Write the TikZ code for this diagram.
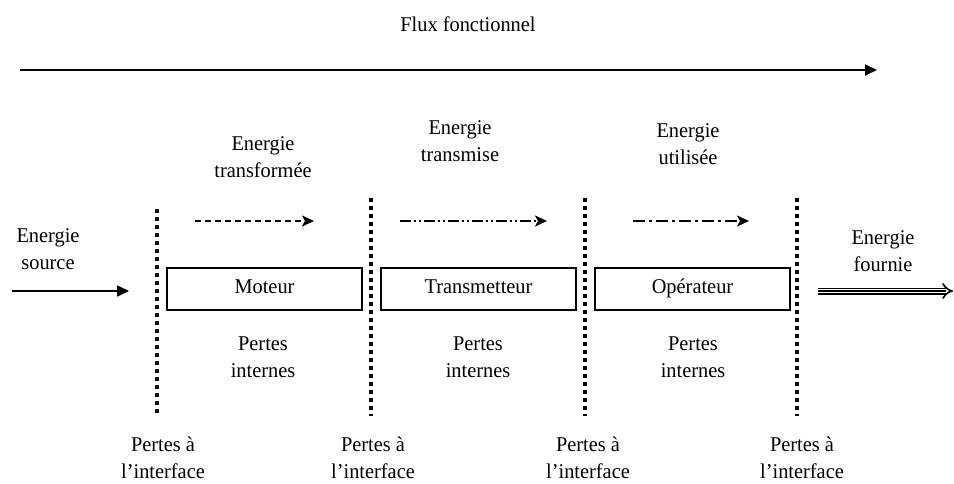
\documentclass[tikz,border=0pt]{standalone}
\usepackage{fontspec}
\setmainfont{Liberation Serif}[FakeStretch=0.97]
\usetikzlibrary{arrows.meta,calc}
\begin{document}
\begin{tikzpicture}[x=1pt,y=-1pt,
  txt/.style={font=\fontsize{21}{27}\selectfont, align=center, inner sep=0pt},
  blockbox/.style={draw, line width=2.6pt, minimum width=195pt, minimum height=42pt, inner sep=0pt, text height=13.5pt, text depth=4.5pt, font=\fontsize{21}{27}\selectfont},
  sep/.style={line width=3.8pt, dash pattern=on 3.8pt off 4.2pt},
  flow/.style={line width=1.9pt, -{Stealth[length=12pt,width=11pt,inset=3pt]}}
]
\useasboundingbox (0,0) rectangle (954,484);

\node[txt] (flux) at (468,24) {Flux fonctionnel};
\coordinate (fa) at (20,70);
\coordinate (fb) at (877,70);
\draw[line width=1.9pt, -{Triangle[length=12pt,width=11pt]}] (fa) -- (fb);

% separators
\coordinate (s1t) at (157,209); \coordinate (s1b) at (157,416);
\coordinate (s2t) at (371,198); \coordinate (s2b) at (371,416);
\coordinate (s3t) at (585,198); \coordinate (s3b) at (585,416);
\coordinate (s4t) at (797,198); \coordinate (s4b) at (797,416);
\draw[sep] (s1t) -- (s1b);
\draw[sep] (s2t) -- (s2b);
\draw[sep] (s3t) -- (s3b);
\draw[sep] (s4t) -- (s4b);

% blocks
\node[blockbox] (mot) at (264.5,289) {Moteur};
\node[blockbox] (tra) at (478.5,289) {Transmetteur};
\node[blockbox] (ope) at (692.5,289) {Opérateur};

% energy labels
\node[txt] (etf) at (263,157) {Energie\\transformée};
\node[txt] (etm) at (460,141) {Energie\\transmise};
\node[txt] (eut) at (688,144) {Energie\\utilisée};
\node[txt] (esr) at (48,249) {Energie\\source};
\node[txt] (efo) at (883,251) {Energie\\fournie};

% flow arrows
\coordinate (a1) at (195,221); \coordinate (b1) at (314,221);
\coordinate (a2) at (400,221); \coordinate (b2) at (547,221);
\coordinate (a3) at (633,221); \coordinate (b3) at (749,221);
\draw[flow, dash pattern=on 6pt off 4pt] (a1) -- (b1);
\draw[flow, dash pattern=on 11pt off 3pt on 2pt off 3pt on 2pt off 3pt] (a2) -- (b2);
\draw[flow, dash pattern=on 12pt off 4pt on 3pt off 4pt] (a3) -- (b3);

% source arrow
\coordinate (sa) at (12,291); \coordinate (sb) at (129,291);
\draw[line width=1.7pt, -{Triangle[length=12pt,width=11pt]}] (sa) -- (sb);

% delivered energy triple arrow
\coordinate (da) at (818,291); \coordinate (db) at (953,291);
\coordinate (dm) at (946,291);
\draw[line width=1.6pt, double distance=3.8pt, -{Implies[length=8pt]}] (da) -- (db);
\draw[line width=1.3pt] (da) -- (dm);

% internal losses
\node[txt] (pi1) at (263,357) {Pertes\\internes};
\node[txt] (pi2) at (478,357) {Pertes\\internes};
\node[txt] (pi3) at (693,357) {Pertes\\internes};

% interface losses
\node[txt] (pf1) at (163,458) {Pertes à\\l’interface};
\node[txt] (pf2) at (373,458) {Pertes à\\l’interface};
\node[txt] (pf3) at (588,458) {Pertes à\\l’interface};
\node[txt] (pf4) at (802,458) {Pertes à\\l’interface};
\end{tikzpicture}
\end{document}
